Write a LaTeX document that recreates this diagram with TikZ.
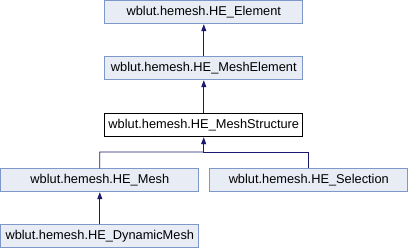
\documentclass[tikz,border=0pt]{standalone}
\usepackage{fontspec}
\setmainfont{Liberation Sans}
\usetikzlibrary{arrows.meta}
\definecolor{nodefill}{HTML}{E8ECF5}
\definecolor{nodeline}{HTML}{7E98CC}
\definecolor{edgeblue}{HTML}{191970}
\begin{document}
\begin{tikzpicture}[x=1pt,y=-1pt,
  cls/.style={draw=nodeline,fill=nodefill,line width=0.8pt,minimum width=198pt,minimum height=23pt,
    inner sep=0pt,font=\fontsize{12.8}{14}\selectfont,anchor=north west},
  cur/.style={cls,draw=black,fill=white},
  inh/.style={draw=edgeblue,line width=0.8pt,-{Triangle[length=7pt,width=5pt]}}]
\useasboundingbox (0,0) rectangle (408,248);
\node[cls] (elem) at (104.4,0.4) {wblut.hemesh.HE\_Element};
\node[cls] (melem) at (104.4,56.4) {wblut.hemesh.HE\_MeshElement};
\node[cur] (mstruct) at (104.4,113.4) {wblut.hemesh.HE\_MeshStructure};
\node[cls] (mesh) at (0.4,168.4) {wblut.hemesh.HE\_Mesh};
\node[cls] (sel) at (209.4,168.4) {wblut.hemesh.HE\_Selection};
\node[cls] (dyn) at (0.4,224.4) {wblut.hemesh.HE\_DynamicMesh};
\draw[inh] (melem.north) -- (elem.south);
\draw[inh] (mstruct.north) -- (melem.south);
\coordinate (fork) at (203.4,152);
\draw[inh] (mesh.north) |- (fork) -- (mstruct.south);
\draw[draw=edgeblue,line width=0.8pt] (sel.north) |- (fork);
\draw[inh] (dyn.north) -- (mesh.south);
\end{tikzpicture}
\end{document}
